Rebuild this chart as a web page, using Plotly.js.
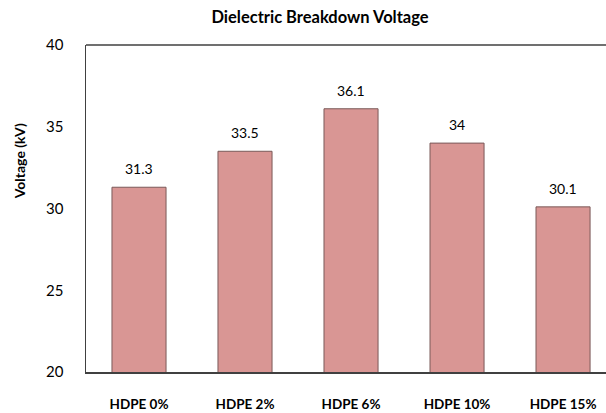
<!DOCTYPE html>
<html>
<head>
<meta charset="utf-8">
<script src="https://cdn.plot.ly/plotly-3.0.1.min.js"></script>
<style>
html,body{margin:0;padding:0;overflow:hidden;background:#fff;width:606px;height:413px;}
#chart{width:640px;height:413px;}
</style>
</head>
<body>
<div id="chart"></div>
<script>
const categories = ["HDPE 0%", "HDPE 2%", "HDPE 6%", "HDPE 10%", "HDPE 15%"];
const voltages = [31.3, 33.5, 36.1, 34, 30.1];
const yTicks = [20, 25, 30, 35, 40];

const FONT = "Lato, 'Open Sans', sans-serif";

const trace = {
  type: "bar",
  x: categories,
  y: voltages,
  marker: {color: "#D99694", line: {color: "#7a5a59", width: 1}},
  hoverinfo: "x+y"
};

const labels = categories.map((c, i) => ({
  x: c, y: voltages[i], xref: "x", yref: "y",
  text: String(voltages[i]), showarrow: false,
  yanchor: "bottom", yshift: 8,
  font: {family: FONT, size: 14, color: "#000"}
}));

labels.push({
  xref: "paper", yref: "paper", x: -0.1205, y: 0.645,
  text: "<b>Voltage (kV)</b>", textangle: -90, showarrow: false,
  xanchor: "center", yanchor: "middle",
  font: {family: FONT, size: 14, color: "#000"}
});

const layout = {
  width: 640, height: 413,
  margin: {l: 86, r: 0, t: 45, b: 41},
  paper_bgcolor: "#fff", plot_bgcolor: "#fff",
  title: {text: "<b>Dielectric Breakdown Voltage</b>", x: 0.5, xref: "container", y: 0.958, yanchor: "middle",
          font: {family: FONT, size: 16.5, color: "#000"}},
  bargap: 0.49,
  showlegend: false,
  xaxis: {
    type: "category", range: [-0.5, 4.726],
    showline: true, linecolor: "#404040", linewidth: 1.5, mirror: false,
    ticks: "", tickfont: {family: FONT, size: 13.5, color: "#000", weight: "bold"},
    ticklabelstandoff: 19, showgrid: false, zeroline: false
  },
  yaxis: {
    range: [20, 40], tickvals: yTicks, ticktext: yTicks.map(String),
    showline: true, linecolor: "#404040", linewidth: 1.5, mirror: false,
    ticks: "", ticklabelstandoff: 18, showgrid: false, zeroline: false,
    tickfont: {family: FONT, size: 15, color: "#000"}
  },
  shapes: [{type: "line", xref: "paper", yref: "paper", x0: 0, x1: 1, y0: 1, y1: 1,
            line: {color: "#404040", width: 1.5}}],
  annotations: labels
};

Plotly.newPlot("chart", [trace], layout, {displayModeBar: false, staticPlot: true});
</script>
</body>
</html>
